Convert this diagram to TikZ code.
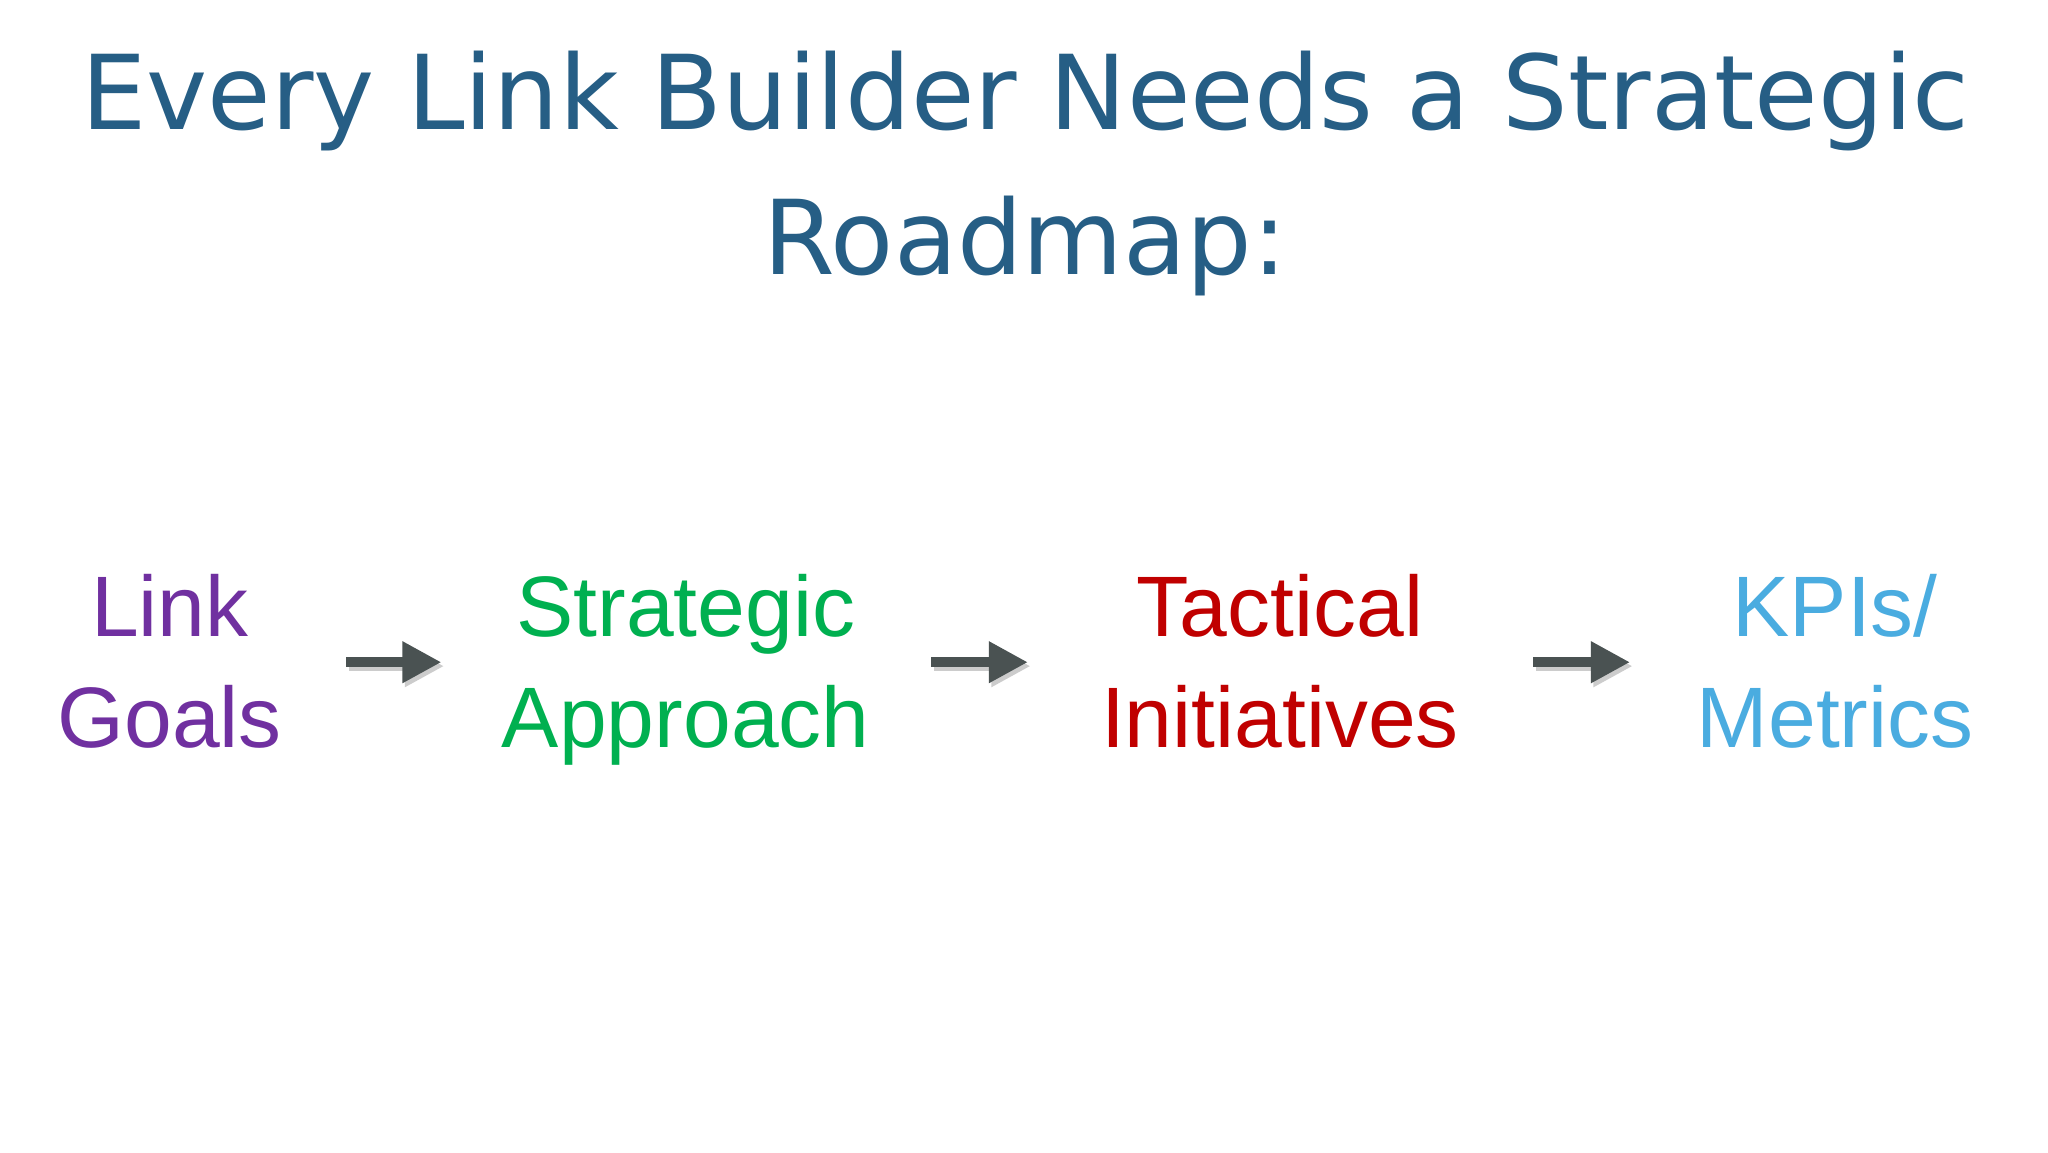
\documentclass[tikz,border=0pt]{standalone}
\usepackage{fontspec}
\setmainfont{Liberation Sans}
\newfontfamily\titlefont{DejaVu Sans}
\usetikzlibrary{arrows.meta}
\definecolor{titleblue}{HTML}{265E85}
\definecolor{cpurple}{HTML}{7030A0}
\definecolor{cgreen}{HTML}{00B050}
\definecolor{cred}{HTML}{C00000}
\definecolor{cblue}{HTML}{4AACE0}
\definecolor{arrowgray}{HTML}{4A5252}
\tikzset{
  stage/.style={align=center,anchor=base,font=\fontsize{18.7}{24.2}\selectfont,inner sep=0pt},
  flow/.style={line width=0.075cm,draw=arrowgray,-{Triangle[length=0.3cm,width=0.3cm]}},
  flowshadow/.style={line width=0.075cm,draw=black!20,-{Triangle[length=0.3cm,width=0.3cm]}}
}
\begin{document}
\begin{tikzpicture}
\useasboundingbox[fill=white] (0,0) rectangle (15.68,8.82);
\node[font=\titlefont\fontsize{22.5}{31.5}\selectfont,text=titleblue,align=center,anchor=base,inner sep=0pt] (title) at (7.85,6.72) {Every Link Builder Needs a Strategic\\Roadmap:};
\node[stage,text=cpurple] (goals) at (1.30,3.10) {Link\\Goals};
\node[stage,text=cgreen] (approach) at (5.25,3.10) {Strategic\\Approach};
\node[stage,text=cred] (tactics) at (9.80,3.10) {Tactical\\Initiatives};
\node[stage,text=cblue] (kpis) at (14.05,3.10) {KPIs/\\Metrics};
\coordinate (a1s) at (2.65,3.75); \coordinate (a1e) at (3.38,3.75);
\coordinate (a2s) at (7.13,3.75); \coordinate (a2e) at (7.87,3.75);
\coordinate (a3s) at (11.74,3.75); \coordinate (a3e) at (12.48,3.75);
\foreach \s/\e in {a1s/a1e,a2s/a2e,a3s/a3e}{
  \draw[flowshadow] ([shift={(0.02,-0.03)}]\s) -- ([shift={(0.02,-0.03)}]\e);
  \draw[flow] (\s) -- (\e);
}
\end{tikzpicture}
\end{document}
